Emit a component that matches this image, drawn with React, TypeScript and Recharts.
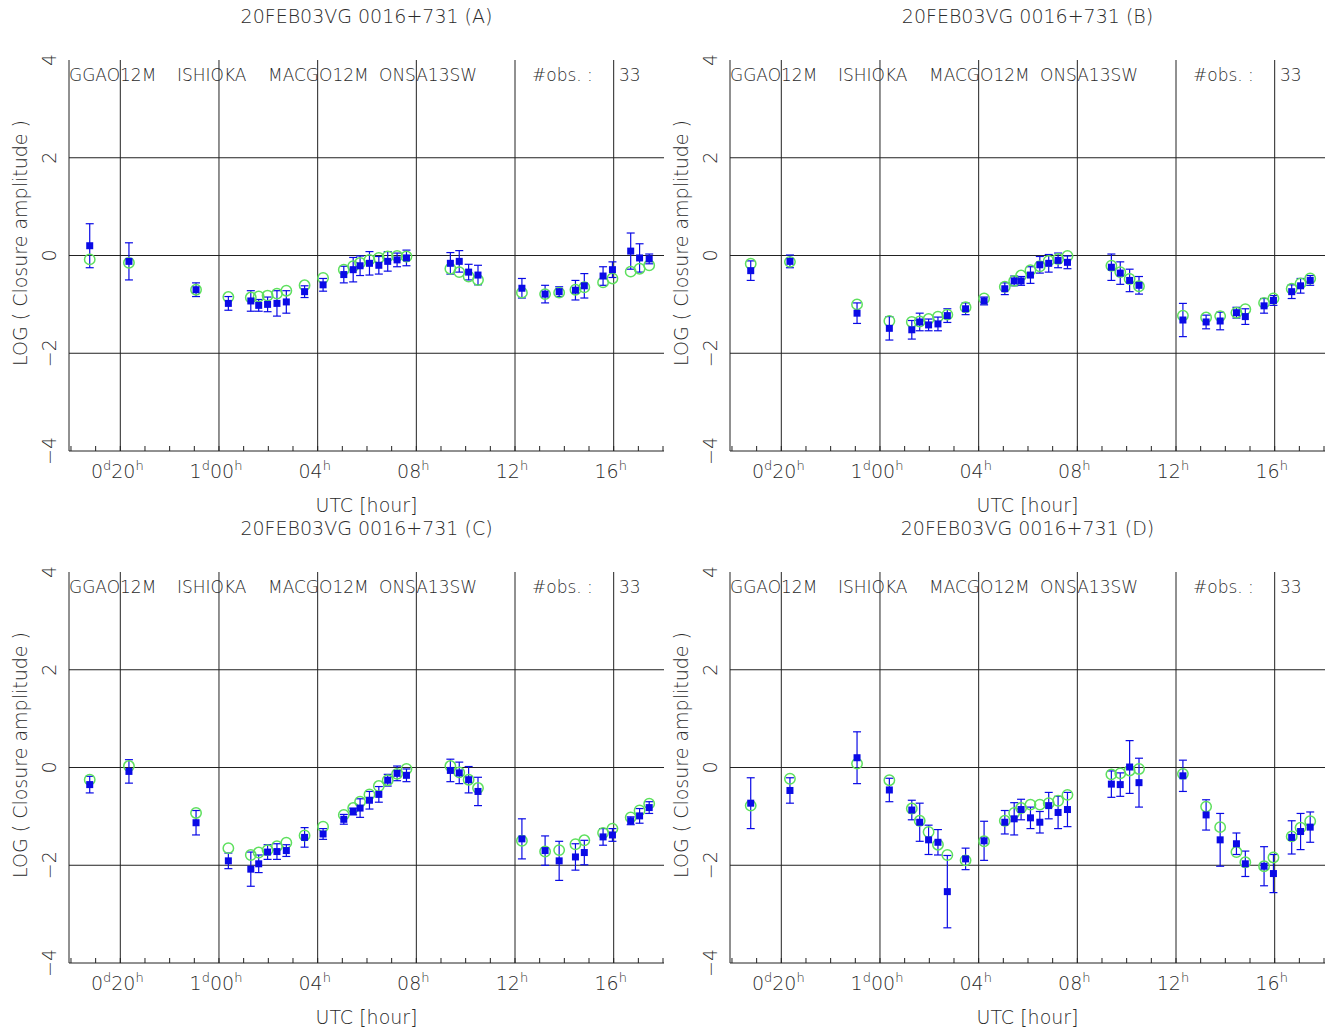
import { ErrorBar, ReferenceLine, Scatter, ScatterChart, XAxis, YAxis } from "recharts";

// scan times in hours since 0d00h (so 1d00h = 24)
const HOURS = [
  18.76, 20.35, 23.07, 24.38, 25.29, 25.61, 25.97, 26.35, 26.73, 27.47, 28.22, 29.06, 29.44, 29.72, 30.1, 30.48, 30.84,
  31.22, 31.6, 33.38, 33.74, 34.12, 34.5, 36.28, 37.22, 37.79, 38.45, 38.81, 39.57, 39.95, 40.69, 41.05, 41.44,
];

const OBS_A = [
  0.2, -0.12, -0.7, -0.98, -0.93, -1.02, -1.0, -0.98, -0.95, -0.74, -0.6, -0.39, -0.29, -0.21, -0.16, -0.2, -0.12, -0.09,
  -0.05, -0.16, -0.12, -0.34, -0.4, -0.67, -0.79, -0.74, -0.71, -0.62, -0.42, -0.29, 0.09, -0.05, -0.07,
];
const ERR_A = [
  0.45, 0.38, 0.14, 0.14, 0.21, 0.12, 0.15, 0.26, 0.23, 0.12, 0.13, 0.17, 0.25, 0.2, 0.24, 0.18, 0.2, 0.14, 0.16, 0.22,
  0.22, 0.16, 0.2, 0.2, 0.18, 0.1, 0.2, 0.25, 0.19, 0.16, 0.37, 0.29, 0.1,
];
const MOD_A = [
  -0.08, -0.15, -0.7, -0.85, -0.86, -0.84, -0.82, -0.78, -0.72, -0.61, -0.46, -0.29, -0.22, -0.15, -0.09, -0.05, -0.02,
  -0.01, -0.02, -0.27, -0.34, -0.43, -0.5, -0.76, -0.79, -0.76, -0.7, -0.65, -0.55, -0.47, -0.33, -0.27, -0.2,
];

const OBS_B = [
  -0.31, -0.12, -1.18, -1.49, -1.52, -1.36, -1.42, -1.4, -1.23, -1.09, -0.93, -0.68, -0.52, -0.52, -0.4, -0.19, -0.16,
  -0.1, -0.14, -0.24, -0.36, -0.51, -0.61, -1.32, -1.36, -1.34, -1.17, -1.25, -1.03, -0.92, -0.74, -0.62, -0.51,
];
const ERR_B = [
  0.2, 0.13, 0.21, 0.24, 0.19, 0.18, 0.12, 0.14, 0.14, 0.12, 0.08, 0.12, 0.1, 0.09, 0.17, 0.17, 0.18, 0.15, 0.13, 0.27,
  0.23, 0.23, 0.18, 0.34, 0.14, 0.18, 0.11, 0.16, 0.15, 0.1, 0.14, 0.15, 0.1,
];
const MOD_B = [
  -0.17, -0.13, -1.0, -1.34, -1.36, -1.35, -1.3, -1.25, -1.21, -1.06, -0.88, -0.64, -0.52, -0.41, -0.3, -0.22, -0.11,
  -0.07, -0.01, -0.21, -0.34, -0.48, -0.63, -1.23, -1.27, -1.24, -1.17, -1.1, -0.97, -0.88, -0.68, -0.57, -0.47,
];

const OBS_C = [
  -0.35, -0.08, -1.13, -1.91, -2.08, -1.97, -1.73, -1.72, -1.7, -1.43, -1.36, -1.06, -0.9, -0.83, -0.67, -0.55, -0.26,
  -0.12, -0.16, -0.06, -0.11, -0.25, -0.49, -1.46, -1.7, -1.91, -1.83, -1.74, -1.42, -1.38, -1.09, -0.99, -0.82,
];
const ERR_C = [
  0.17, 0.24, 0.25, 0.16, 0.35, 0.18, 0.15, 0.16, 0.12, 0.2, 0.11, 0.1, 0.07, 0.19, 0.18, 0.16, 0.12, 0.15, 0.13, 0.23,
  0.22, 0.27, 0.29, 0.41, 0.3, 0.4, 0.27, 0.25, 0.17, 0.13, 0.08, 0.15, 0.12,
];
const MOD_C = [
  -0.25, 0.03, -0.93, -1.65, -1.79, -1.74, -1.69, -1.61, -1.54, -1.39, -1.21, -0.97, -0.83, -0.7, -0.55, -0.38, -0.26,
  -0.13, -0.03, 0.03, -0.1, -0.25, -0.42, -1.5, -1.72, -1.69, -1.57, -1.49, -1.34, -1.25, -1.02, -0.88, -0.74,
];

const OBS_D = [
  -0.73, -0.47, 0.2, -0.46, -0.87, -1.12, -1.48, -1.53, -2.54, -1.87, -1.5, -1.12, -1.05, -0.86, -1.03, -1.12, -0.78,
  -0.92, -0.86, -0.34, -0.35, 0.01, -0.31, -0.17, -0.97, -1.48, -1.56, -1.97, -2.02, -2.17, -1.43, -1.31, -1.22,
];
const ERR_D = [
  0.52, 0.26, 0.53, 0.24, 0.2, 0.39, 0.3, 0.26, 0.74, 0.22, 0.4, 0.24, 0.33, 0.21, 0.22, 0.22, 0.27, 0.33, 0.35, 0.27,
  0.24, 0.54, 0.5, 0.32, 0.31, 0.54, 0.22, 0.26, 0.4, 0.39, 0.34, 0.37, 0.31,
];
const MOD_D = [
  -0.78, -0.23, 0.08, -0.26, -0.84, -1.09, -1.32, -1.58, -1.79, -1.9, -1.51, -1.09, -0.93, -0.83, -0.76, -0.76, -0.73,
  -0.68, -0.56, -0.14, -0.12, -0.06, -0.03, -0.13, -0.8, -1.22, -1.73, -1.94, -2.02, -1.84, -1.41, -1.23, -1.1,
];

const STATIONS = ["GGAO12M", "ISHIOKA", "MACGO12M", "ONSA13SW"];
const HOUR_TICKS = [18, 19, 20, 21, 22, 23, 24, 25, 26, 27, 28, 29, 30, 31, 32, 33, 34, 35, 36, 37, 38, 39, 40, 41, 42];
const MAJOR_HOURS = [20, 24, 28, 32, 36, 40];
const Y_TICKS = [-4, -2, 0, 2, 4];
const Y_LINES = [-2, 0, 2];

const BLUE = "#0a0ae6";
const GREEN = "#5ee05e";
const INK = "#2a2a2a";
const FONT = "'DejaVu Sans', sans-serif";

function HourTick({ x, y, payload }: any) {
  const v = payload.value as number;
  if (v % 4 !== 0) return <g />;
  const hh = String(v % 24).padStart(2, "0");
  const day = v >= 24 ? 1 : 0;
  return (
    <text x={x - 3} y={y + 30} textAnchor="middle" fontFamily={FONT} fontWeight={200} fontSize={19} fill={INK}>
      {v <= 24 && (
        <>
          <tspan>{day}</tspan>
          <tspan dy={-8} fontSize={13}>
            d
          </tspan>
          <tspan dy={8}>{hh}</tspan>
        </>
      )}
      {v > 24 && <tspan>{hh}</tspan>}
      <tspan dy={-8} fontSize={13}>
        h
      </tspan>
    </text>
  );
}

function ValueTick({ y, payload }: any) {
  return (
    <text
      x={56}
      y={y}
      transform={`rotate(-90 56 ${y})`}
      textAnchor="middle"
      fontFamily={FONT}
      fontWeight={200}
      fontSize={19}
      fill={INK}
    >
      {payload.value < 0 ? `\u2212${Math.abs(payload.value)}` : payload.value}
    </text>
  );
}

function Panel({ tag, obs, err, model, left, top }: any) {
  const obsRows = HOURS.map((t, i) => ({ t, v: obs[i], err: err[i] }));
  const modelRows = HOURS.map((t, i) => ({ t, v: model[i] }));
  const stationX = [69, 177, 268, 379];

  return (
    <div style={{ position: "absolute", left, top, width: 670, height: 512 }}>
      <ScatterChart width={670} height={512} margin={{ top: 60, right: 6, bottom: 0, left: 0 }}>
        <XAxis
          type="number"
          dataKey="t"
          domain={[17.92, 42.04]}
          allowDataOverflow
          ticks={HOUR_TICKS}
          interval={0}
          height={61}
          tickSize={-5}
          tick={<HourTick />}
          stroke="#222"
        />
        <XAxis
          xAxisId="top"
          orientation="top"
          type="number"
          domain={[17.92, 42.04]}
          allowDataOverflow
          ticks={HOUR_TICKS}
          interval={0}
          height={0}
          tickSize={-5}
          tick={() => <g />}
          stroke="#222"
        />
        <YAxis
          type="number"
          dataKey="v"
          domain={[-4, 4]}
          allowDataOverflow
          ticks={Y_TICKS}
          interval={0}
          width={69}
          tickLine={false}
          tick={<ValueTick />}
          stroke="#222"
        />
        <YAxis
          yAxisId="right"
          orientation="right"
          type="number"
          domain={[-4, 4]}
          width={0}
          tick={false}
          tickLine={false}
          stroke="#222"
        />
        {MAJOR_HOURS.map((h) => (
          <ReferenceLine key={`x${h}`} x={h} stroke="#222" strokeWidth={1} />
        ))}
        {Y_LINES.map((v) => (
          <ReferenceLine key={`y${v}`} y={v} stroke="#222" strokeWidth={1} />
        ))}
        <Scatter
          data={modelRows}
          isAnimationActive={false}
          shape={(p: any) => <circle cx={p.cx} cy={p.cy} r={5.2} fill="none" stroke={GREEN} strokeWidth={1.5} />}
        />
        <Scatter
          data={obsRows}
          isAnimationActive={false}
          shape={(p: any) => <rect x={p.cx - 3.5} y={p.cy - 3.5} width={7} height={7} fill={BLUE} />}
        >
          <ErrorBar dataKey="err" direction="y" width={4} stroke={BLUE} strokeWidth={1.2} isAnimationActive={false} />
        </Scatter>
      </ScatterChart>
      <svg
        width={670}
        height={512}
        style={{ position: "absolute", left: 0, top: 0, overflow: "visible", pointerEvents: "none" }}
        fontFamily={FONT}
        fontWeight={200}
        fill={INK}
      >
        <text x={366.5} y={23} textAnchor="middle" fontSize={19}>
          20FEB03VG 0016+731 ({tag})
        </text>
        <text x={366.5} y={512} textAnchor="middle" fontSize={19}>
          UTC [hour]
        </text>
        <text x={27} y={243} transform="rotate(-90 27 243)" textAnchor="middle" fontSize={19}>
          LOG ( Closure amplitude )
        </text>
        {STATIONS.map((s, i) => (
          <text key={s} x={stationX[i]} y={81} fontSize={17}>
            {s}
          </text>
        ))}
        <text x={532} y={81} fontSize={17}>
          #obs. :
        </text>
        <text x={619} y={81} fontSize={17}>
          {HOURS.length}
        </text>
      </svg>
    </div>
  );
}

export default function App() {
  return (
    <div
      style={{
        position: "absolute",
        left: 0,
        top: 0,
        width: 1325,
        height: 1034,
        overflow: "hidden",
        background: "#fff",
      }}
    >
      <Panel tag="A" obs={OBS_A} err={ERR_A} model={MOD_A} left={0} top={0} />
      <Panel tag="B" obs={OBS_B} err={ERR_B} model={MOD_B} left={661} top={0} />
      <Panel tag="C" obs={OBS_C} err={ERR_C} model={MOD_C} left={0} top={512} />
      <Panel tag="D" obs={OBS_D} err={ERR_D} model={MOD_D} left={661} top={512} />
    </div>
  );
}
